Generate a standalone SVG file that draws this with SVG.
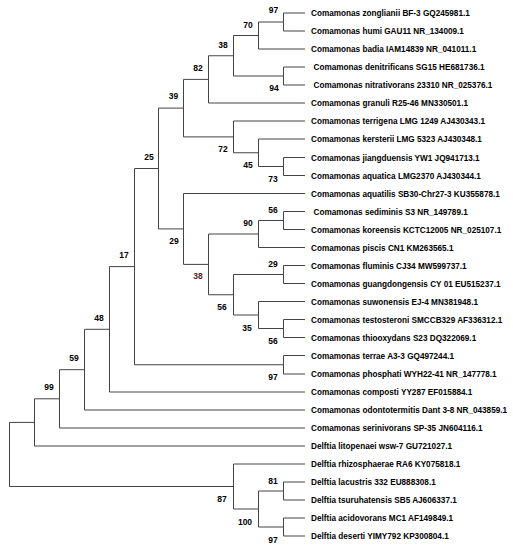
<svg xmlns="http://www.w3.org/2000/svg" width="513" height="550" viewBox="0 0 513 550">
<style>
.e{fill:none;stroke:#444444;stroke-width:1}
.t{font-family:"Liberation Sans",Arial,sans-serif;font-weight:bold;font-size:8.2px;fill:#000000}
.b{font-family:"Liberation Sans",Arial,sans-serif;font-weight:bold;font-size:8.5px;fill:#000000;text-anchor:middle}
.r{fill:#5a2020}
</style>
<rect width="513" height="550" fill="#ffffff"/>
<g id="connectors">
<path class="e" d="M305,13H283.5V31H305"/>
<path class="e" d="M283.5,22H258.5V49H305"/>
<path class="e" d="M305,67H283.5V85H305"/>
<path class="e" d="M258.5,35.5H233.5V76H283.5"/>
<path class="e" d="M233.5,55.75H208.5V103H305"/>
<path class="e" d="M305,157.5H283.5V175.5H305"/>
<path class="e" d="M305,139H258.5V166.5H283.5"/>
<path class="e" d="M305,121H233.5V152.75H258.5"/>
<path class="e" d="M208.5,79.4H183.5V136.9H233.5"/>
<path class="e" d="M305,211.5H283.5V229.5H305"/>
<path class="e" d="M283.5,220.5H258.5V247.5H305"/>
<path class="e" d="M305,265.5H283.5V283.5H305"/>
<path class="e" d="M305,319.5H283.5V337.5H305"/>
<path class="e" d="M305,301.5H258.5V328.5H283.5"/>
<path class="e" d="M283.5,274.5H233.5V315H258.5"/>
<path class="e" d="M258.5,234H208.5V294.75H233.5"/>
<path class="e" d="M305,193.5H183.5V264.4H208.5"/>
<path class="e" d="M183.5,108.1H158.5V228.9H183.5"/>
<path class="e" d="M305,355.5H283.5V374H305"/>
<path class="e" d="M158.5,168.5H134.5V364.75H283.5"/>
<path class="e" d="M134.5,266.6H109.5V392H305"/>
<path class="e" d="M109.5,329.3H84.5V410H305"/>
<path class="e" d="M84.5,369.7H59.5V428H305"/>
<path class="e" d="M59.5,398.8H34.5V446H305"/>
<path class="e" d="M305,482H283.5V500H305"/>
<path class="e" d="M305,518H283.5V536H305"/>
<path class="e" d="M283.5,491H258.5V527H283.5"/>
<path class="e" d="M305,464H233.5V509H258.5"/>
<path class="e" d="M34.5,422.4H9.5V486.5H233.5"/>
</g>
<g id="leaf-zonglianii"><text class="t" x="311" y="16">Comamonas zonglianii BF-3 GQ245981.1</text></g>
<g id="leaf-humi"><text class="t" x="311" y="34">Comamonas humi GAU11 NR_134009.1</text></g>
<g id="leaf-badia"><text class="t" x="311" y="52">Comamonas badia IAM14839 NR_041011.1</text></g>
<g id="leaf-denitrificans"><text class="t" x="313.5" y="70">Comamonas denitrificans SG15 HE681736.1</text></g>
<g id="leaf-nitrativorans"><text class="t" x="313.5" y="88">Comamonas nitrativorans 23310 NR_025376.1</text></g>
<g id="leaf-granuli"><text class="t" x="311" y="106">Comamonas granuli R25-46 MN330501.1</text></g>
<g id="leaf-terrigena"><text class="t" x="311" y="124">Comamonas terrigena LMG 1249 AJ430343.1</text></g>
<g id="leaf-kersterii"><text class="t" x="311" y="142">Comamonas kersterii LMG 5323 AJ430348.1</text></g>
<g id="leaf-jiangduensis"><text class="t" x="311" y="160.5">Comamonas jiangduensis YW1 JQ941713.1</text></g>
<g id="leaf-aquatica"><text class="t" x="311" y="178.5">Comamonas aquatica LMG2370 AJ430344.1</text></g>
<g id="leaf-aquatilis"><text class="t" x="311" y="196.5">Comamonas aquatilis SB30-Chr27-3 KU355878.1</text></g>
<g id="leaf-sediminis"><text class="t" x="313.5" y="214.5">Comamonas sediminis S3 NR_149789.1</text></g>
<g id="leaf-koreensis"><text class="t" x="311" y="232.5">Comamonas koreensis KCTC12005 NR_025107.1</text></g>
<g id="leaf-piscis"><text class="t" x="311" y="250.5">Comamonas piscis CN1 KM263565.1</text></g>
<g id="leaf-fluminis"><text class="t" x="311" y="268.5">Comamonas fluminis CJ34 MW599737.1</text></g>
<g id="leaf-guangdongensis"><text class="t" x="311" y="286.5">Comamonas guangdongensis CY 01 EU515237.1</text></g>
<g id="leaf-suwonensis"><text class="t" x="311" y="304.5">Comamonas suwonensis EJ-4 MN381948.1</text></g>
<g id="leaf-testosteroni"><text class="t" x="311" y="322.5">Comamonas testosteroni SMCCB329 AF336312.1</text></g>
<g id="leaf-thiooxydans"><text class="t" x="311" y="340.5">Comamonas thiooxydans S23 DQ322069.1</text></g>
<g id="leaf-terrae"><text class="t" x="311" y="358.5">Comamonas terrae A3-3 GQ497244.1</text></g>
<g id="leaf-phosphati"><text class="t" x="311" y="377">Comamonas phosphati WYH22-41 NR_147778.1</text></g>
<g id="leaf-composti"><text class="t" x="311" y="395">Comamonas composti YY287 EF015884.1</text></g>
<g id="leaf-odontotermitis"><text class="t" x="311" y="413">Comamonas odontotermitis Dant 3-8 NR_043859.1</text></g>
<g id="leaf-serinivorans"><text class="t" x="311" y="431">Comamonas serinivorans SP-35 JN604116.1</text></g>
<g id="leaf-litopenaei"><text class="t" x="311" y="449">Delftia litopenaei wsw-7 GU721027.1</text></g>
<g id="leaf-rhizosphaerae"><text class="t" x="311" y="467">Delftia rhizosphaerae RA6 KY075818.1</text></g>
<g id="leaf-lacustris"><text class="t" x="311" y="485">Delftia lacustris 332 EU888308.1</text></g>
<g id="leaf-tsuruhatensis"><text class="t" x="311" y="503">Delftia tsuruhatensis SB5 AJ606337.1</text></g>
<g id="leaf-acidovorans"><text class="t" x="311" y="521">Delftia acidovorans MC1 AF149849.1</text></g>
<g id="leaf-deserti"><text class="t" x="311" y="539">Delftia deserti YIMY792 KP300804.1</text></g>
<g id="node-A"><text class="b" x="273.5" y="13">97</text></g>
<g id="node-B"><text class="b" x="248" y="28">70</text></g>
<g id="node-C"><text class="b" x="274" y="91">94</text></g>
<g id="node-D"><text class="b" x="223" y="48">38</text></g>
<g id="node-E"><text class="b" x="198" y="71">82</text></g>
<g id="node-F"><text class="b" x="273" y="182">73</text></g>
<g id="node-G"><text class="b" x="248" y="168">45</text></g>
<g id="node-H"><text class="b" x="223" y="152">72</text></g>
<g id="node-I"><text class="b" x="173.5" y="99">39</text></g>
<g id="node-J"><text class="b" x="273" y="212.5">56</text></g>
<g id="node-K"><text class="b" x="248" y="226">90</text></g>
<g id="node-L"><text class="b" x="273" y="267">29</text></g>
<g id="node-M"><text class="b" x="273" y="344">56</text></g>
<g id="node-N"><text class="b" x="247" y="331">35</text></g>
<g id="node-O"><text class="b" x="222" y="310">56</text></g>
<g id="node-P"><text class="b r" x="198" y="279">38</text></g>
<g id="node-Q"><text class="b" x="174" y="244">29</text></g>
<g id="node-R"><text class="b" x="149" y="160">25</text></g>
<g id="node-S"><text class="b" x="273" y="380">97</text></g>
<g id="node-T"><text class="b" x="124" y="258">17</text></g>
<g id="node-U"><text class="b" x="99" y="321">48</text></g>
<g id="node-V"><text class="b" x="74" y="361">59</text></g>
<g id="node-W"><text class="b" x="49" y="390">99</text></g>
<g id="node-X"></g>
<g id="node-Y"><text class="b" x="273" y="484">81</text></g>
<g id="node-Z"><text class="b" x="273" y="543">97</text></g>
<g id="node-AA"><text class="b" x="245" y="525">100</text></g>
<g id="node-AB"><text class="b" x="222" y="502">87</text></g>
<g id="node-root"></g>
</svg>
